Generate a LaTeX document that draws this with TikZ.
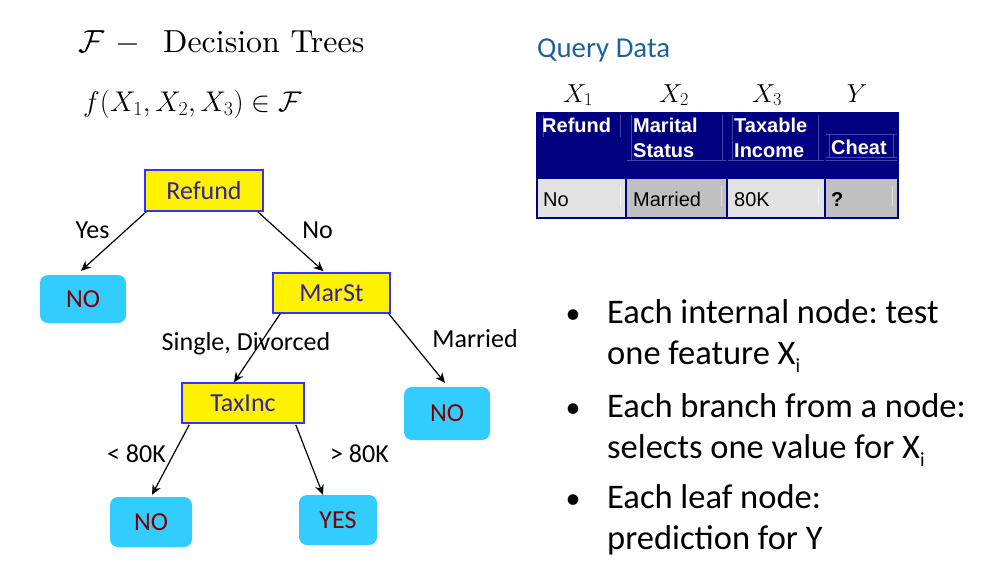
\documentclass[tikz,border=0pt]{standalone}
\usepackage{fix-cm}
\usepackage{fontspec}
\usetikzlibrary{arrows.meta,calc}
\newfontfamily\calibf{Carlito}
\newfontfamily\arialf{Liberation Sans}
\newfontfamily\lmten{lmroman10-regular.otf}
\definecolor{dnavy}{RGB}{0,0,128}
\definecolor{innerl}{RGB}{70,70,170}
\definecolor{leafc}{RGB}{51,204,255}
\definecolor{leaft}{RGB}{128,0,0}
\definecolor{dtext}{RGB}{51,34,153}
\definecolor{dborder}{RGB}{51,51,255}
\definecolor{qblue}{RGB}{31,95,160}
\definecolor{lgrey}{RGB}{227,227,227}
\definecolor{dgrey}{RGB}{192,192,192}
\newcommand\sbi{\raisebox{-8pt}{\fontsize{20}{20}\selectfont i}}
\begin{document}
\frenchspacing
\begin{tikzpicture}[x=1pt,y=-1pt,
  dnode/.style={draw=dborder, line width=1.5pt, fill=yellow, text=dtext, inner sep=0pt,
    font=\calibf\fontsize{26}{31}\selectfont},
  leaf/.style={fill=leafc, rounded corners=8pt, text=leaft, inner sep=0pt,
    font=\calibf\fontsize{26}{31}\selectfont},
  lbl/.style={font=\calibf\fontsize{26}{31}\selectfont, inner sep=0pt, anchor=base},
  arr/.style={-{Stealth[length=10pt,width=9pt]}, line width=1.2pt},
  bul/.style={font=\calibf\fontsize{34.5}{41}\selectfont, inner sep=0pt},
  hdr/.style={font=\arialf\bfseries\fontsize{20}{25}\selectfont, text=white, inner sep=0pt, anchor=base west},
  cell/.style={font=\arialf\fontsize{20}{25}\selectfont, text=black, inner sep=0pt, anchor=base west},
  xlab/.style={font=\fontsize{26}{31}\selectfont, inner sep=0pt, anchor=base}]
\useasboundingbox (0,0) rectangle (981,568);

% title and formula
\node[font=\lmten\fontsize{31.9}{38}\selectfont, inner sep=0pt, anchor=base west] (title) at (78,52)
  {\makebox[37pt][l]{$\mathcal{F}$}\makebox[48pt][l]{$-$}Decision Trees};
\node[font=\fontsize{28.5}{33}\selectfont, inner sep=0pt, anchor=base west] (formula) at (83,111)
  {$f(X_1,X_2,X_3)\in\mathcal{F}$};

% tree nodes
\node[dnode, minimum width=118pt, minimum height=41pt] (refund) at (204,190.5) {Refund};
\node[leaf, minimum width=86pt, minimum height=48pt] (no1) at (83,299) {NO};
\node[dnode, minimum width=117pt, minimum height=40pt] (marst) at (331.5,293) {MarSt};
\node[dnode, minimum width=122pt, minimum height=40pt] (taxinc) at (243,403) {TaxInc};
\node[leaf, minimum width=86pt, minimum height=53pt] (no2) at (447,413.5) {NO};
\node[leaf, minimum width=82pt, minimum height=50pt] (no3) at (151,522) {NO};
\node[leaf, minimum width=78pt, minimum height=50pt] (yes) at (338,520) {YES\hspace{8pt}};

% connectors
\draw[arr] ($(refund.south west)+(2,0)$) -- ($(no1.north)+(-2,-4)$);
\draw[arr] ($(refund.south east)+(-6,0)$) -- ($(marst.north)+(-8,-1)$);
\draw[arr] ($(marst.south west)+(8,0)$) -- ($(taxinc.north)+(-9,0)$);
\draw[arr] ($(marst.south east)+(-2,0)$) -- ($(no2.north)+(-2,-4)$);
\draw[arr] ($(taxinc.south west)+(8,1)$) -- ($(no3.north)+(1,-2)$);
\draw[arr] ($(taxinc.south east)+(-9,1)$) -- ($(yes.north)+(-15,0)$);

% edge labels
\node[lbl] (lyes) at (92.5,238) {Yes};
\node[lbl] (lno) at (317.5,238) {No};
\node[lbl] (lsd) at (246,350) {Single, Divorced};
\node[lbl] (lmar) at (475,347) {Married};
\node[lbl] (llt) at (136.5,462) {< 80K};
\node[lbl] (lgt) at (359.5,462) {> 80K};

% query data
\node[font=\calibf\fontsize{28.8}{34}\selectfont, text=qblue, inner sep=0pt, anchor=base west] (qd) at (537,57) {Query Data};
\node[xlab] (x1) at (578,102) {$X_1$};
\node[xlab] (x2) at (674,102) {$X_2$};
\node[xlab] (x3) at (767,102) {$X_3$};
\node[xlab] (yy) at (857,102) {$Y$};

% table
\fill[dnavy] (537,113) rectangle (898,178);
\fill[lgrey] (537,178) rectangle (626,218);
\fill[dgrey] (626,178) rectangle (727,218);
\fill[lgrey] (727,178) rectangle (825,218);
\fill[dgrey] (825,178) rectangle (898,218);
\begin{scope}[innerl, line width=0.7pt]
  \draw (543,115) -- (543,137) (620,115) -- (620,137);
  \draw (631,115) -- (631,160) (722,115) -- (722,160);
  \draw (732,115) -- (732,160) (818,115) -- (818,160);
  \draw (627,160) -- (897,160);
  \draw (825,134) -- (897,134) (829,134) -- (829,157) (893,134) -- (893,157) (826,157) -- (897,157);
\end{scope}
\begin{scope}[white, line width=0.6pt, opacity=0.5]
  \draw (620,186) -- (620,206) (721,186) -- (721,206) (818,186) -- (818,206) (892,186) -- (892,206);
\end{scope}
\draw[dnavy, line width=1.5pt] (537,113) rectangle (898,218);
\draw[dnavy, line width=1.5pt] (537,178) -- (898,178)
  (626,113) -- (626,218) (727,113) -- (727,218) (825,113) -- (825,218);

\node[hdr] (h1) at (542,132) {Refund};
\node[hdr] (h2) at (633,132) {\vtop{\hbox{Marital}\hbox{Status}}};
\node[hdr] (h3) at (734,132) {\vtop{\hbox{Taxable}\hbox{Income}}};
\node[hdr] (h4) at (831,154) {Cheat};
\node[cell] (c1) at (543,206) {No};
\node[cell] (c2) at (633,206) {Married};
\node[cell] (c3) at (734,206) {80K};
\node[cell, font=\arialf\bfseries\fontsize{20}{25}\selectfont] (c4) at (831,206) {?};

% bullets
\node[bul, anchor=base, font=\calibf\fontsize{30}{41}\selectfont] (d1) at (573,323) {•};
\node[bul, anchor=base, font=\calibf\fontsize{30}{41}\selectfont] (d2) at (573,417) {•};
\node[bul, anchor=base, font=\calibf\fontsize{30}{41}\selectfont] (d3) at (573,508) {•};
\node[bul, anchor=base west] (b1) at (607,323) {\vtop{\hbox{Each internal node: test}\hbox{one feature X\sbi}}};
\node[bul, anchor=base west] (b2) at (607,417) {\vtop{\hbox{Each branch from a node:}\hbox{selects one value for X\sbi}}};
\node[bul, anchor=base west] (b3) at (607,508) {\vtop{\hbox{Each leaf node:}\hbox{prediction for Y}}};
\end{tikzpicture}
\end{document}
